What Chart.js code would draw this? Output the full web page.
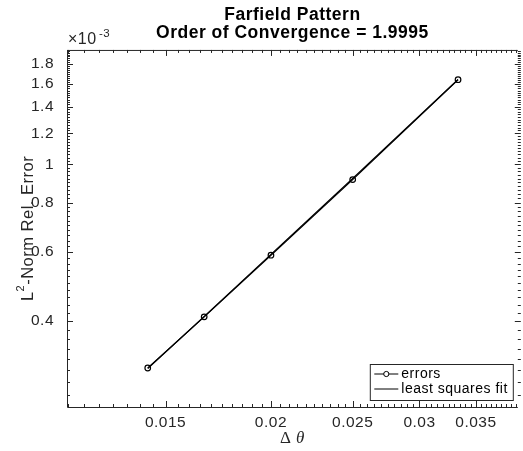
<!DOCTYPE html>
<html>
<head>
<meta charset="utf-8">
<script src="https://cdn.jsdelivr.net/npm/chart.js@4.4.0/dist/chart.umd.min.js"></script>
<style>
  html, body { margin: 0; padding: 0; background: #fff; }
</style>
</head>
<body>
<canvas id="convChart" width="523" height="451"></canvas>
<script>
// grid spacing (delta theta) and errors
const dTheta = [0.014286, 0.016667, 0.02, 0.025, 0.033333];
const errors = [0.304e-3, 0.410e-3, 0.588e-3, 0.915e-3, 1.641e-3];
const lsqFit = [0.303e-3, 0.411e-3, 0.591e-3, 0.921e-3, 1.643e-3];

const xTicks = [0.015, 0.02, 0.025, 0.03, 0.035];
const yTicks = [0.4e-3, 0.6e-3, 0.8e-3, 1.0e-3, 1.2e-3, 1.4e-3, 1.6e-3, 1.8e-3];

const axisColor = "#262626";
const sans = "'Liberation Sans', Arial, Helvetica, sans-serif";
const serif = "'Liberation Serif', 'Times New Roman', serif";

// matlab style box with inward ticks, labels and legend
const matlabAxes = {
  id: "matlabAxes",
  beforeDraw(chart) {
    chart.ctx.letterSpacing = "0.5px";
  },
  afterDraw(chart) {
    const { ctx, chartArea: a, scales } = chart;
    const x = scales.x, y = scales.y;
    const rightEdge = a.right + 3;
    ctx.save();
    ctx.strokeStyle = axisColor;
    ctx.lineWidth = 1;
    ctx.beginPath();
    ctx.moveTo(a.left + 0.5, a.top + 0.5);
    ctx.lineTo(a.right, a.top + 0.5);
    ctx.moveTo(a.left + 0.5, a.top);
    ctx.lineTo(a.left + 0.5, a.bottom + 0.5);
    ctx.lineTo(a.right, a.bottom + 0.5);

    // x ticks, minor every 0.0005
    for (let i = 23; i <= 79; i++) {
      const v = i * 0.0005;
      if (v < x.min || v > x.max) continue;
      const len = i % 10 === 0 ? 6 : 3;
      const px = Math.round(x.getPixelForValue(v)) + 0.5;
      ctx.moveTo(px, a.bottom);
      ctx.lineTo(px, a.bottom - len);
      ctx.moveTo(px, a.top);
      ctx.lineTo(px, a.top + len);
    }
    // y ticks, minor every 0.02e-3
    for (let i = 12; i <= 98; i++) {
      const v = i * 0.02e-3;
      if (v < y.min || v > y.max) continue;
      const len = i % 10 === 0 ? 6 : 3;
      const py = Math.round(y.getPixelForValue(v)) + 0.5;
      ctx.moveTo(a.left, py);
      ctx.lineTo(a.left + len, py);
      ctx.moveTo(rightEdge, py);
      ctx.lineTo(rightEdge - len, py);
    }
    ctx.stroke();

    // exponent label
    ctx.fillStyle = axisColor;
    ctx.textBaseline = "alphabetic";
    ctx.textAlign = "left";
    ctx.font = "16px " + sans;
    ctx.fillText("\u00d710", a.left + 1, a.top - 6);
    ctx.font = "11.5px " + sans;
    ctx.fillText("-3", a.left + 32, a.top - 13);

    // y label with superscript
    ctx.save();
    ctx.translate(28, (a.top + a.bottom) / 2);
    ctx.rotate(-Math.PI / 2);
    ctx.textBaseline = "middle";
    ctx.font = "16.5px " + sans;
    const wL = ctx.measureText("L").width;
    const wRest = ctx.measureText("-Norm Rel. Error").width;
    ctx.font = "11px " + sans;
    const w2 = ctx.measureText("2").width;
    let tx = -(wL + w2 + wRest) / 2;
    ctx.font = "16.5px " + sans;
    ctx.fillText("L", tx, 0);
    tx += wL;
    ctx.font = "11px " + sans;
    ctx.fillText("2", tx, -7);
    tx += w2;
    ctx.font = "16.5px " + sans;
    ctx.fillText("-Norm Rel. Error", tx, 0);
    ctx.restore();

    // x label
    ctx.textBaseline = "middle";
    ctx.font = "17px " + serif;
    const wD = ctx.measureText("\u0394 ").width;
    ctx.font = "italic 17px " + serif;
    const wT = ctx.measureText("\u03b8").width;
    let lx = (a.left + a.right) / 2 - (wD + wT) / 2;
    ctx.font = "17px " + serif;
    ctx.fillText("\u0394 ", lx, 439);
    ctx.font = "italic 17px " + serif;
    ctx.fillText("\u03b8", lx + wD, 439);

    // legend
    const bx = a.right - 147.5, by = a.bottom - 42.5, bw = 143, bh = 36;
    ctx.fillStyle = "#fff";
    ctx.fillRect(bx, by, bw, bh);
    ctx.strokeRect(bx, by, bw, bh);
    ctx.strokeStyle = "#000";
    ctx.beginPath();
    ctx.moveTo(bx + 4, by + 9.5);
    ctx.lineTo(bx + 28, by + 9.5);
    ctx.moveTo(bx + 4, by + 24.5);
    ctx.lineTo(bx + 28, by + 24.5);
    ctx.stroke();
    ctx.beginPath();
    ctx.arc(bx + 16, by + 9.5, 2.6, 0, Math.PI * 2);
    ctx.fillStyle = "#fff";
    ctx.fill();
    ctx.stroke();
    ctx.fillStyle = "#000";
    ctx.font = "14px " + sans;
    ctx.textBaseline = "middle";
    ctx.fillText("errors", bx + 31, by + 9.5);
    ctx.fillText("least squares fit", bx + 31, by + 24.5);
    ctx.restore();
  }
};

const ctx = document.getElementById("convChart");

new Chart(ctx, {
  type: "line",
  data: {
    datasets: [
      {
        label: "errors",
        data: dTheta.map((d, i) => ({ x: d, y: errors[i] })),
        borderColor: "#000",
        backgroundColor: "rgba(0,0,0,0)",
        borderWidth: 1.2,
        pointRadius: 2.8,
        pointBorderWidth: 1.2,
        pointBorderColor: "#000",
        pointBackgroundColor: "rgba(0,0,0,0)",
        tension: 0
      },
      {
        label: "least squares fit",
        data: dTheta.map((d, i) => ({ x: d, y: lsqFit[i] })),
        borderColor: "#000",
        borderWidth: 1.2,
        pointRadius: 0,
        tension: 0
      }
    ]
  },
  options: {
    responsive: false,
    animation: false,
    devicePixelRatio: 1,
    layout: { padding: 0 },
    plugins: {
      legend: { display: false },
      tooltip: { enabled: false },
      title: {
        display: true,
        fullSize: false,
        text: ["Farfield Pattern", "Order of Convergence = 1.9995"],
        color: "#000",
        font: { family: sans, size: 17.5, weight: "bold", lineHeight: 1.05 },
        padding: { top: 5.5, bottom: 7.7 }
      }
    },
    scales: {
      x: {
        type: "logarithmic",
        min: 0.01146,
        max: 0.03924,
        grid: { display: false, drawTicks: false },
        border: { display: false },
        afterBuildTicks: (s) => { s.ticks = xTicks.map((v) => ({ value: v })); },
        afterFit: (s) => { s.height = 44; },
        ticks: {
          color: axisColor,
          autoSkip: false,
          maxRotation: 0,
          padding: 6,
          font: { family: sans, size: 15.5 },
          callback: (v) => String(v)
        }
      },
      y: {
        type: "logarithmic",
        min: 0.242e-3,
        max: 1.953e-3,
        grid: { display: false, drawTicks: false },
        border: { display: false },
        afterBuildTicks: (s) => { s.ticks = yTicks.map((v) => ({ value: v })); },
        afterFit: (s) => { s.width = 67; },
        ticks: {
          color: axisColor,
          autoSkip: false,
          padding: 13,
          font: { family: sans, size: 15.5 },
          callback: (v) => String(Number((v * 1000).toFixed(1)))
        }
      }
    }
  },
  plugins: [matlabAxes]
});
</script>
</body>
</html>
